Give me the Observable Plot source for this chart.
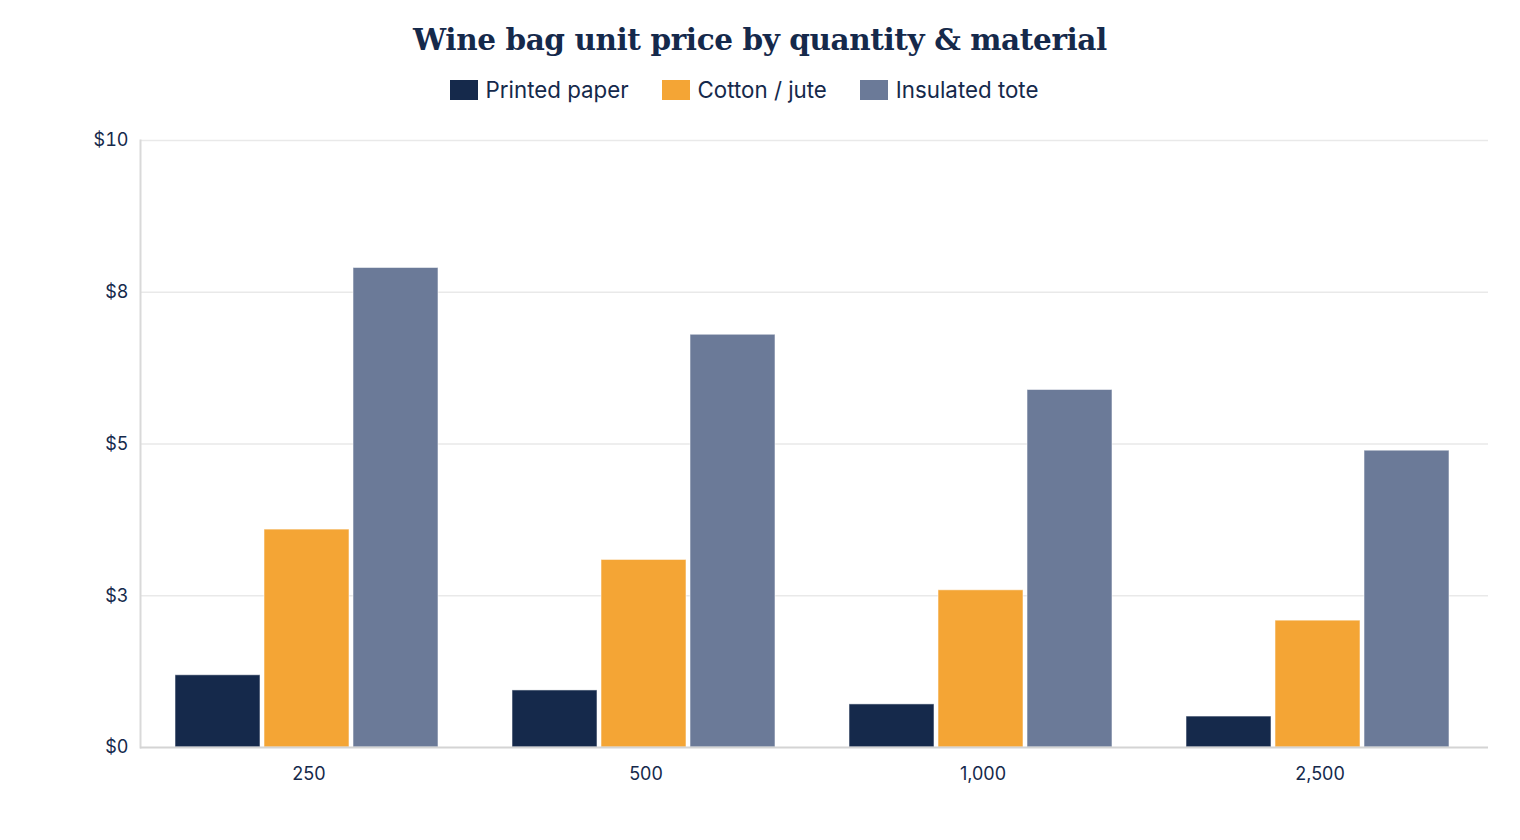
<!DOCTYPE html>
<html>
<head>
<meta charset="utf-8">
<script src="https://cdn.jsdelivr.net/npm/d3@7"></script>
<script src="https://cdn.jsdelivr.net/npm/@observablehq/plot@0.6"></script>
<style>
  html, body { margin: 0; padding: 0; background: #fff; }
  body { width: 1520px; height: 840px; font-family: Inter, "Noto Sans", sans-serif; color: #15294b; }
  #title { position: absolute; top: 20px; left: 0; width: 1520px; text-align: center;
    font-family: "DejaVu Serif", Georgia, serif; font-weight: bold; font-size: 29.5px; line-height: 40px; color: #15294b; letter-spacing: -0.4px; }
  #legend { position: absolute; top: 76px; left: -16px; width: 1520px; display: flex; justify-content: center; gap: 33px;
    font-size: 22.3px; line-height: 28px; color: #15294b; }
  #legend .item { display: flex; align-items: center; gap: 8px; }
  #legend .sw { width: 28px; height: 20px; display: inline-block; }
  #chart { position: absolute; top: 120px; left: 0; }
</style>
</head>
<body>
<div id="title">Wine bag unit price by quantity &amp; material</div>
<div id="legend"></div>
<div id="chart"></div>
<script>
const quantities = ["250", "500", "1,000", "2,500"];
const materials = ["Printed paper", "Cotton / jute", "Insulated tote"];
const colors = ["#15294b", "#f4a535", "#6b7a98"];
const printedPaper = [1.19, 0.94, 0.71, 0.51];
const cottonJute = [3.59, 3.09, 2.59, 2.09];
const insulatedTote = [7.90, 6.80, 5.89, 4.89];
const yTicks = [0, 2.5, 5, 7.5, 10];

const series = [printedPaper, cottonJute, insulatedTote];
const data = [];
quantities.forEach((q, i) => materials.forEach((m, j) => data.push({quantity: q, material: m, price: series[j][i]})));

const legend = document.getElementById("legend");
materials.forEach((m, j) => {
  const it = document.createElement("div");
  it.className = "item";
  it.innerHTML = `<span class="sw" style="background:${colors[j]}"></span><span>${m}</span>`;
  legend.appendChild(it);
});

const chart = Plot.plot({
  width: 1520,
  height: 677,
  marginLeft: 140,
  marginRight: 32,
  marginTop: 20,
  marginBottom: 50,
  style: {fontFamily: "Inter, sans-serif", fontSize: "18px", color: "#15294b", background: "#fff"},
  fx: {domain: quantities, padding: 0, label: null, axis: "bottom", tickSize: 0, tickPadding: 20},
  x: {domain: materials, paddingInner: 0.05, paddingOuter: 0.4, align: 0.47, axis: null},
  y: {domain: [0, 10], ticks: yTicks, tickFormat: d => "$" + d3.format(".0f")(d), label: null, tickSize: 0, tickPadding: 12},
  color: {domain: materials, range: colors},
  marks: [
    Plot.ruleY(yTicks.slice(1), {stroke: "#e9e9e9", strokeWidth: 1.5}),
    Plot.barY(data, {fx: "quantity", x: "material", y: "price", fill: "material", stroke: "#ffffff", strokeOpacity: 0.55, strokeWidth: 1}),
    Plot.frame({anchor: "left", facetAnchor: "left", stroke: "#d9d9d9", strokeWidth: 2}),
    Plot.ruleY([0], {stroke: "#d4d4d4", strokeWidth: 2})
  ]
});
document.getElementById("chart").appendChild(chart);
</script>
</body>
</html>
